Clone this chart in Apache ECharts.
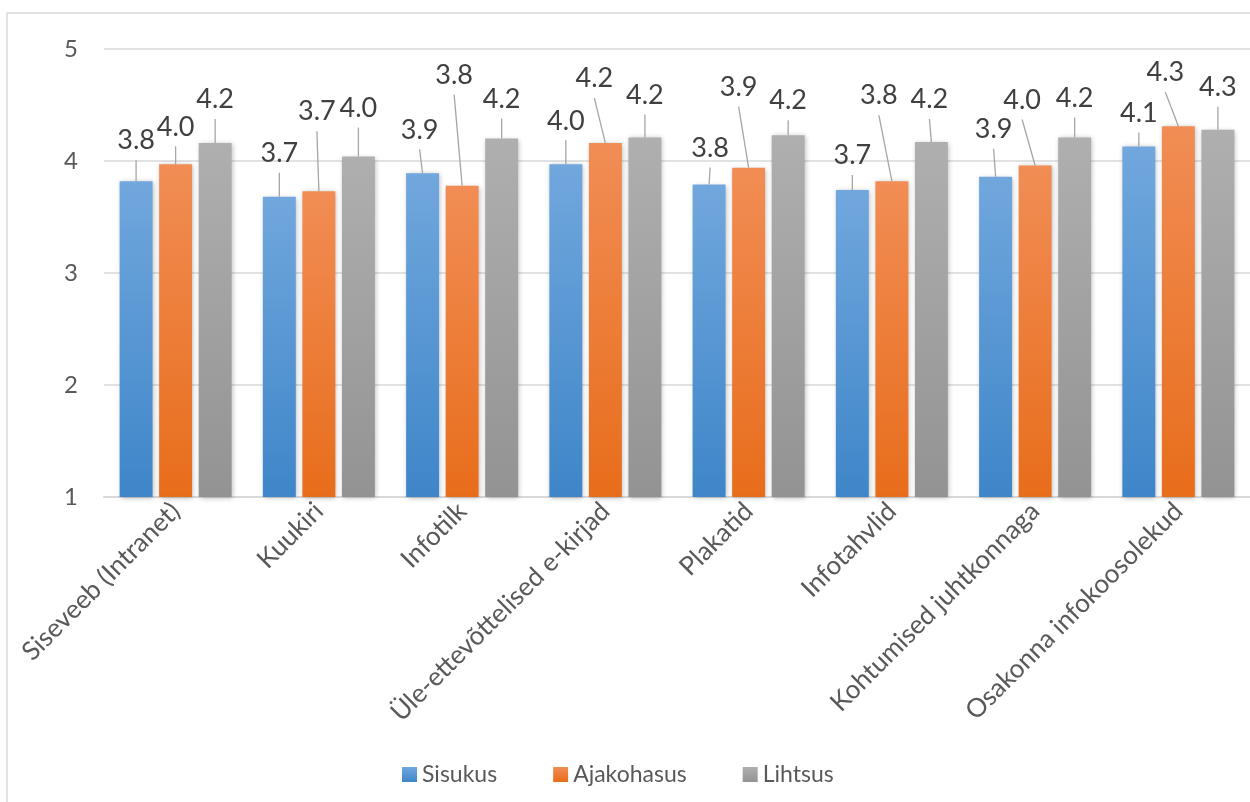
<!DOCTYPE html>
<html>
<head>
<meta charset="utf-8">
<script src="https://cdn.jsdelivr.net/npm/echarts@6/dist/echarts.min.js"></script>
<style>
  html, body { margin: 0; padding: 0; background: #ffffff; }
  #chart { width: 1250px; height: 802px; }
</style>
</head>
<body>
<div id="chart"></div>
<script>
// Survey categories (communication channels)
const categories = [
  'Siseveeb (Intranet)', 'Kuukiri', 'Infotilk', 'Üle-ettevõttelised e-kirjad',
  'Plakatid', 'Infotahvlid', 'Kohtumised juhtkonnaga', 'Osakonna infokoosolekud'
];
const seriesNames = ['Sisukus', 'Ajakohasus', 'Lihtsus'];

// Average scores per category
const sisukus    = [3.82, 3.68, 3.89, 3.97, 3.79, 3.74, 3.86, 4.13];
const ajakohasus = [3.97, 3.73, 3.78, 4.16, 3.94, 3.82, 3.96, 4.31];
const lihtsus    = [4.16, 4.04, 4.20, 4.21, 4.23, 4.17, 4.21, 4.28];

// Value axis ticks
const yTicks = [1, 2, 3, 4, 5];

// Data label placement: [horizontal shift, lift above bar top] in px
const labelOffsets = [
  [[0, 33], [0, 36], [-3, 36], [0, 36], [1, 29], [0, 27], [-2, 40], [0, 26]],
  [[0, 30], [-2, 72], [-8, 103], [-11, 57], [-10, 73], [-13, 78], [-13, 58], [-13, 46]],
  [[0, 36], [0, 41], [0, 32], [0, 35], [0, 27], [-2, 35], [0, 32], [0, 35]]
];

const FONT = 'Lato, "Open Sans", sans-serif';
const TEXT = '#595959';
const BAR_WIDTH = 0.23;   // share of the category band
const BAR_GAP = 0.2;      // share of the bar width
const LEADER_GAP = 12;    // space between label digits and leader line

const allValues = [sisukus, ajakohasus, lihtsus];

const gradients = [
  ['#71a7dd', '#3e86c9'],
  ['#f18d55', '#e86d1b'],
  ['#afafaf', '#939393']
];

function grad(c) {
  return new echarts.graphic.LinearGradient(0, 0, 0, 1, [
    { offset: 0, color: c[0] },
    { offset: 1, color: c[1] }
  ]);
}

function makeSeries(name, values, idx) {
  return {
    name: name,
    type: 'bar',
    data: values,
    barWidth: (BAR_WIDTH * 100) + '%',
    barGap: (BAR_GAP * 100) + '%',
    itemStyle: {
      color: grad(gradients[idx]),
      shadowColor: 'rgba(0,0,0,0.28)',
      shadowBlur: 5,
      shadowOffsetX: 1,
      shadowOffsetY: 1
    },
    label: {
      show: true,
      position: 'top',
      fontFamily: FONT,
      fontSize: 27,
      lineHeight: 27,
      color: '#404040',
      formatter: function (p) { return p.value.toFixed(1); }
    },
    labelLayout: function (p) {
      const off = labelOffsets[p.seriesIndex][p.dataIndex];
      const cx = p.rect.x + p.rect.width / 2;
      return {
        x: cx + off[0],
        y: p.rect.y - off[1] + 6,
        align: 'center',
        verticalAlign: 'bottom'
      };
    }
  };
}

// Leader lines from each data label down to the top centre of its bar
const leaderData = [];
allValues.forEach(function (vals, s) {
  vals.forEach(function (v, i) { leaderData.push([i, v, s]); });
});

const leaderSeries = {
  type: 'custom',
  data: leaderData,
  z: 5,
  silent: true,
  clip: false,
  encode: { x: 0, y: 1 },
  renderItem: function (params, api) {
    const i = api.value(0);
    const v = api.value(1);
    const s = api.value(2);
    const pt = api.coord([i, v]);
    const band = api.size([1, 0])[0];
    const w = band * BAR_WIDTH;
    const cx = pt[0] + (s - 1) * (w + w * BAR_GAP);
    const off = labelOffsets[s][i];
    return {
      type: 'line',
      shape: { x1: cx + off[0], y1: pt[1] - off[1] + LEADER_GAP, x2: cx, y2: pt[1] },
      style: { stroke: '#a6a6a6', lineWidth: 1.3 }
    };
  }
};

const chart = echarts.init(document.getElementById('chart'), null, { renderer: 'canvas' });

chart.setOption({
  animation: false,
  backgroundColor: '#ffffff',
  graphic: [{
    type: 'rect',
    shape: { x: 7, y: 13, width: 1400, height: 1000 },
    style: { fill: 'none', stroke: '#d9d9d9', lineWidth: 1.5 },
    silent: true,
    z: -10
  }],
  legend: {
    data: seriesNames,
    left: 397,
    top: 758,
    itemWidth: 15,
    itemHeight: 15,
    itemGap: 56,
    icon: 'rect',
    textStyle: { fontFamily: FONT, fontSize: 23, color: TEXT }
  },
  grid: {
    left: 104,
    top: 49,
    width: 1148,
    height: 448,
    containLabel: false
  },
  xAxis: {
    type: 'category',
    data: categories,
    axisTick: { show: false },
    axisLine: { lineStyle: { color: '#d9d9d9', width: 2 } },
    axisLabel: {
      rotate: 45,
      interval: 0,
      margin: 10,
      fontFamily: FONT,
      fontSize: 26,
      color: TEXT
    }
  },
  yAxis: {
    type: 'value',
    min: yTicks[0],
    max: yTicks[yTicks.length - 1],
    interval: 1,
    axisLine: { show: false },
    axisTick: { show: false },
    axisLabel: {
      margin: 26,
      fontFamily: FONT,
      fontSize: 24,
      color: TEXT
    },
    splitLine: { lineStyle: { color: '#d9d9d9', width: 1.5 } }
  },
  series: [
    makeSeries(seriesNames[0], sisukus, 0),
    makeSeries(seriesNames[1], ajakohasus, 1),
    makeSeries(seriesNames[2], lihtsus, 2),
    leaderSeries
  ]
});
</script>
</body>
</html>
